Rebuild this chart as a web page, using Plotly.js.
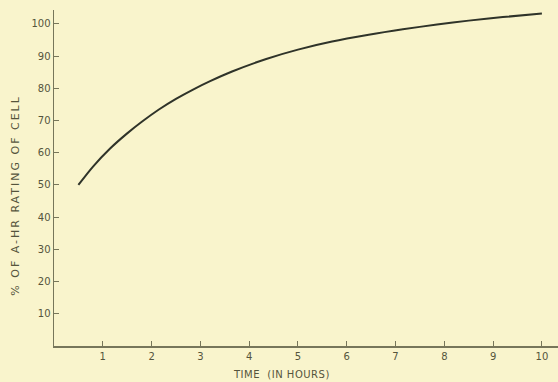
<!DOCTYPE html>
<html>
<head>
<meta charset="utf-8">
<script src="https://cdn.plot.ly/plotly-3.0.1.min.js"></script>
<style>
html,body{margin:0;padding:0;background:#f9f4cc;}
#chart{width:558px;height:382px;}
</style>
</head>
<body>
<div id="chart"></div>
<script>
// Charge reached (% of A-hr rating) vs. time in hours
const hours = [0.5, 0.8, 1.15, 1.5, 1.8, 2.15, 2.5, 2.85, 3.2, 3.65, 4.35, 5.0, 5.7, 6.45, 7.15, 7.85, 8.5, 9.2, 10.0];
const percentRating = [50, 55.7, 61.3, 66.0, 69.6, 73.4, 76.7, 79.6, 82.2, 85.2, 89.1, 92.0, 94.5, 96.6, 98.3, 99.8, 101.0, 102.1, 103.2];
const xTicks = [1, 2, 3, 4, 5, 6, 7, 8, 9, 10];
const xTickText = ["1", "2", "3", "4", "5", "6", "7", "8", "9", "10"];
const yTicks = [10, 20, 30, 40, 50, 60, 70, 80, 90, 100];
const yTickText = ["10", "20", "30", "40", "50", "60", "70", "80", "90", "100"];
const xTitle = "TIME  (IN HOURS)";
const yTitle = "% OF A-HR RATING OF CELL";

const ink = "#55543c";
const axisColor = "#77765a";

const trace = {
  x: hours, y: percentRating, type: "scatter", mode: "lines",
  line: {color: "#2f3329", width: 2, shape: "spline", smoothing: 0.8},
  hoverinfo: "skip"
};

const layout = {
  width: 558, height: 382,
  margin: {l: 54, r: 0, t: 10, b: 36},
  paper_bgcolor: "#f9f4cc", plot_bgcolor: "#f9f4cc",
  showlegend: false,
  font: {family: "DejaVu Sans, sans-serif", color: ink, size: 10},
  xaxis: {
    range: [0, 10.33], tickvals: xTicks, ticktext: xTickText,
    showgrid: false, zeroline: false, showline: true, linecolor: axisColor, linewidth: 1.5,
    ticks: "inside", ticklen: 5, tickcolor: axisColor, tickwidth: 1,
    tickfont: {size: 10, color: ink}
  },
  yaxis: {
    range: [0, 104.3], tickvals: yTicks, ticktext: yTickText,
    showgrid: false, zeroline: false, showline: true, linecolor: axisColor, linewidth: 1.5,
    ticks: "inside", ticklen: 5, tickcolor: axisColor, tickwidth: 1,
    tickfont: {size: 10, color: ink}
  },
  annotations: [
    {text: xTitle, xref: "paper", yref: "paper", x: (281 - 54) / 504, y: -(374 - 346) / 336,
     xanchor: "center", yanchor: "middle", showarrow: false,
     font: {size: 10, color: ink}},
    {text: yTitle, xref: "paper", yref: "paper", x: -0.078, y: (346 - 195) / 336,
     xanchor: "center", yanchor: "middle", showarrow: false, textangle: -90,
     font: {size: 11, color: ink}}
  ]
};

Plotly.newPlot("chart", [trace], layout, {displayModeBar: false, staticPlot: true}).then(function () {
  const anns = document.querySelectorAll(".annotation-text");
  if (anns.length > 1) { anns[1].style.letterSpacing = "2px"; }
  if (anns.length > 0) { anns[0].style.letterSpacing = "0.5px"; }
});
</script>
</body>
</html>
